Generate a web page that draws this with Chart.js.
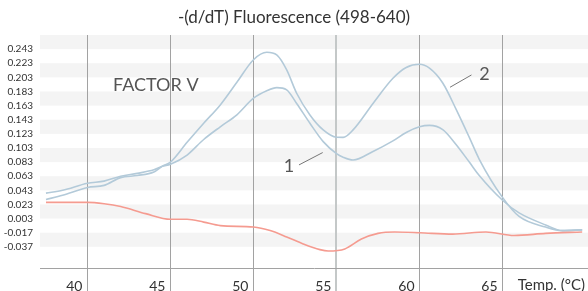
<!DOCTYPE html>
<html>
<head>
<meta charset="utf-8">
<script src="https://cdn.jsdelivr.net/npm/chart.js@4"></script>
<style>
  body { margin: 0; background: #fff; }
  .cadre { width: 588px; height: 291px; }
</style>
</head>
<body>
<div class="cadre"><canvas id="meltChart"></canvas></div>
<script>
// temperatures (°C) shared by the two blue curves
const tempsBleu = [37.5, 38.5, 40, 41, 42, 43, 44, 44.5, 45, 46, 47, 48, 49, 50, 50.8, 51.4, 52, 52.6, 53.4, 54.2,
    55, 55.4, 56, 57.2, 58.4, 59.2, 60, 60.6, 61.4, 62.2, 63, 63.6, 65, 66, 67.6, 68.6, 69.8];

// curve 1 (lower peaks)
const valeurs1 = [0.039, 0.043, 0.053, 0.056, 0.063, 0.067, 0.072, 0.077, 0.080, 0.093, 0.115, 0.133, 0.150, 0.1735, 0.184, 0.1884, 0.1852, 0.166, 0.138, 0.112,
    0.095, 0.090, 0.086, 0.098, 0.113, 0.125, 0.133, 0.135, 0.129, 0.108, 0.083, 0.064, 0.029, 0.011, -0.006, -0.014, -0.013];

// curve 2 (higher peaks)
const valeurs2 = [0.030, 0.036, 0.047, 0.050, 0.061, 0.064, 0.069, 0.077, 0.083, 0.111, 0.138, 0.164, 0.196, 0.228, 0.2385, 0.2347, 0.2135, 0.1805, 0.1498, 0.1286,
    0.1182, 0.118, 0.1286, 0.166, 0.2017, 0.217, 0.2215, 0.216, 0.195, 0.158, 0.118, 0.087, 0.033, 0.006, -0.009, -0.014, -0.013];

// red curve (negative control)
const tempsRouge = [37.5, 38.5, 40, 41, 42, 43.5, 45, 46, 47, 48, 50, 51, 52, 53, 54, 54.5, 55.5, 56.5, 57.5, 58.5, 60, 62, 64, 65.7, 67.6, 69.8];
const valeursRouge = [0.026, 0.026, 0.026, 0.024, 0.020, 0.010, 0.002, 0.002, -0.002, -0.007, -0.009, -0.014, -0.023, -0.033, -0.041, -0.043, -0.040, -0.026,
    -0.018, -0.016, -0.017, -0.019, -0.016, -0.021, -0.018, -0.016];

// axes
const xTicks = [40, 45, 50, 55, 60, 65];
const xTickLabels = ['40', '45', '50', '55', '60', '65'];
const yTicks = [-0.037, -0.017, 0.003, 0.023, 0.043, 0.063, 0.083, 0.103, 0.123, 0.143, 0.163, 0.183, 0.203, 0.223, 0.243];
const yTickLabels = ['-0.037', '-0.017', '0.003', '0.023', '0.043', '0.063', '0.083', '0.103', '0.123', '0.143', '0.163', '0.183', '0.203', '0.223', '0.243'];

const bleu = '#b3cad9';
const rouge = '#f59b90';
const police = "'Lato', 'DejaVu Sans', sans-serif";

function points(temps, valeurs) {
    return temps.map((t, i) => ({ x: t, y: valeurs[i] }));
}

// grey bands every other tick interval
const bandesPlugin = {
    id: 'bandes',
    beforeDraw(chart) {
        const { ctx, chartArea, scales } = chart;
        ctx.save();
        ctx.fillStyle = '#f4f4f4';
        yTicks.filter((v, i) => i % 2 === 0).forEach(v => {
            const haut = scales.y.getPixelForValue(v + 0.02);
            const bas = scales.y.getPixelForValue(v);
            ctx.fillRect(chartArea.left, haut, chartArea.right - chartArea.left, bas - haut);
        });
        ctx.restore();
    }
};

// texts and leader lines drawn over the curves
const textesPlugin = {
    id: 'textes',
    afterDatasetsDraw(chart) {
        const { ctx, chartArea, scales } = chart;
        const px = t => scales.x.getPixelForValue(t);
        const py = v => scales.y.getPixelForValue(v);
        ctx.save();
        ctx.fillStyle = '#555';
        ctx.textBaseline = 'middle';
        ctx.font = '18px ' + police;
        ctx.textAlign = 'left';
        ctx.fillText('FACTOR V', px(41.54), py(0.1915));
        ctx.textAlign = 'center';
        ctx.fillText('2', px(63.92), py(0.2078));
        ctx.fillText('1', px(52.14), py(0.0769));

        ctx.strokeStyle = '#777';
        ctx.lineWidth = 1;
        ctx.beginPath();
        ctx.moveTo(px(61.84), py(0.189));
        ctx.lineTo(px(63.13), py(0.2064));
        ctx.moveTo(px(52.74), py(0.079));
        ctx.lineTo(px(54.17), py(0.0965));
        ctx.stroke();

        ctx.fillStyle = '#333';
        ctx.font = '15px ' + police;
        ctx.textAlign = 'right';
        ctx.fillText('Temp. (°C)', chartArea.right - 3, scales.x.top + 17);
        ctx.restore();
    }
};

const ctxChart = document.getElementById('meltChart');

new Chart(ctxChart, {
    type: 'line',
    data: {
        datasets: [
            { label: 'rouge', data: points(tempsRouge, valeursRouge), borderColor: rouge },
            { label: '1', data: points(tempsBleu, valeurs1), borderColor: bleu },
            { label: '2', data: points(tempsBleu, valeurs2), borderColor: bleu }
        ]
    },
    options: {
        responsive: true,
        maintainAspectRatio: false,
        animation: false,
        layout: { padding: 0 },
        elements: {
            point: { radius: 0 },
            line: { borderWidth: 1.6, cubicInterpolationMode: 'monotone', fill: false }
        },
        scales: {
            x: {
                type: 'linear',
                min: 37.14,
                max: 70.15,
                afterBuildTicks: scale => { scale.ticks = xTicks.map(v => ({ value: v })); },
                afterFit: scale => { scale.height = 23; },
                ticks: {
                    autoSkip: false,
                    align: 'end',
                    labelOffset: -5,
                    padding: -13,
                    color: '#333',
                    font: { size: 14, family: police },
                    callback: (value, index) => xTickLabels[index]
                },
                grid: {
                    tickLength: 23,
                    color: c => (c.tick && c.tick.value === 55) ? '#c4c8c8' : '#a2a2a2',
                    lineWidth: c => (c.tick && c.tick.value === 55) ? 2 : 1
                },
                border: { display: true, color: '#a2a2a2', width: 1 }
            },
            y: {
                min: -0.067,
                max: 0.263,
                afterBuildTicks: scale => { scale.ticks = yTicks.map(v => ({ value: v })); },
                afterFit: scale => { scale.width = 40; },
                ticks: {
                    autoSkip: false,
                    padding: 7,
                    color: '#333',
                    font: { size: 10, family: police },
                    callback: (value, index) => yTickLabels[index]
                },
                grid: { display: false, drawTicks: false },
                border: { display: false }
            }
        },
        plugins: {
            legend: { display: false },
            tooltip: { enabled: false },
            title: {
                display: true,
                text: '-(d/dT) Fluorescence (498-640)',
                color: '#333',
                font: { size: 17, family: police, weight: 'normal' },
                padding: { top: 7, bottom: 7.6 }
            }
        }
    },
    plugins: [bandesPlugin, textesPlugin]
});
</script>
</body>
</html>
